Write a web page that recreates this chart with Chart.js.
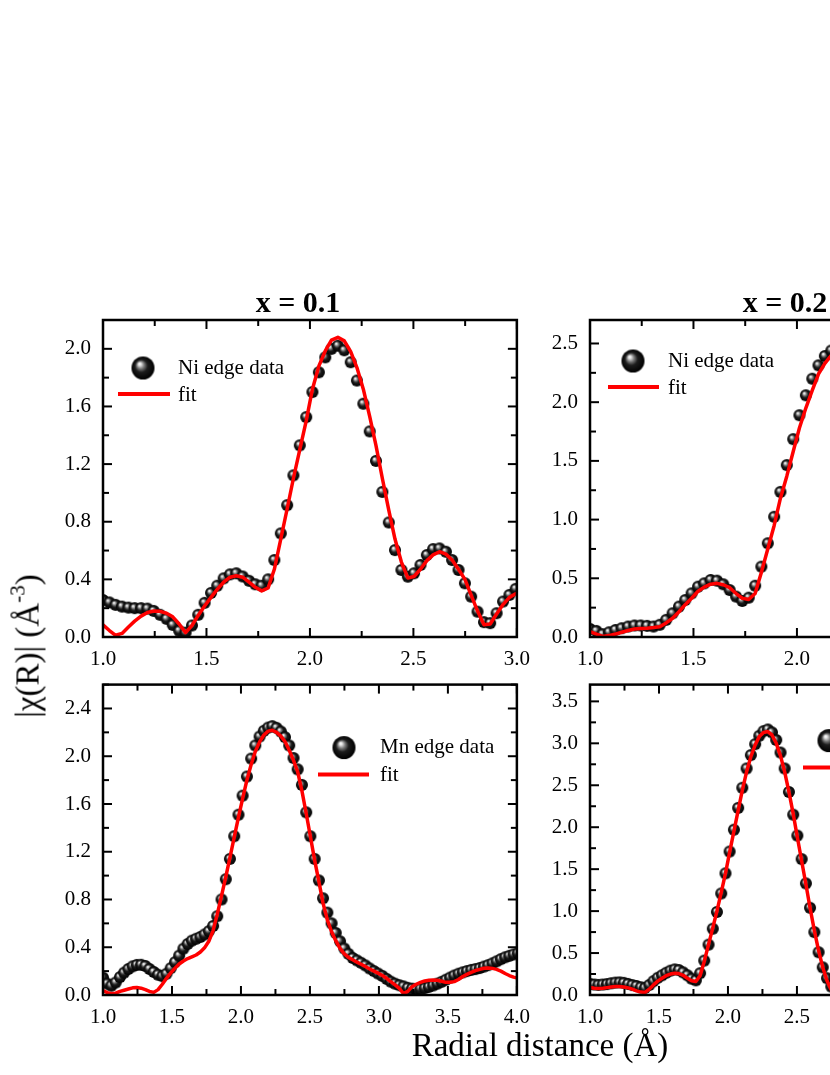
<!DOCTYPE html>
<html>
<head>
<meta charset="utf-8">
<title>|χ(R)| fits</title>
<script src="https://cdn.jsdelivr.net/npm/chart.js@4.4.1/dist/chart.umd.min.js"></script>
<style>
  html, body { margin: 0; padding: 0; background: #fff; overflow: hidden; }
  #page { position: relative; width: 1040px; height: 1075px; }
  #page canvas { position: absolute; }
  .axis-title {
    position: absolute;
    font-family: "Liberation Serif", "Times New Roman", serif;
    font-size: 33px;
    line-height: 1;
    color: #000;
    white-space: nowrap;
  }
  #xTitle { left: 540px; top: 1029px; transform: translateX(-50%); }
  #yTitle { left: 28px; top: 646px; transform: translate(-50%, -50%) rotate(-90deg); }
  #yTitle .sup { font-size: 21px; position: relative; top: -14px; }
</style>
</head>
<body>
<div id="page">
  <canvas id="panelNi01" width="500" height="400" style="left:40px; top:280px;"></canvas>
  <canvas id="panelNi02" width="500" height="400" style="left:527px; top:280px;"></canvas>
  <canvas id="panelMn01" width="500" height="380" style="left:40px; top:660px;"></canvas>
  <canvas id="panelMn02" width="500" height="380" style="left:527px; top:660px;"></canvas>
  <div id="yTitle" class="axis-title">|χ(R)| (Å<span class="sup">-3</span>)</div>
  <div id="xTitle" class="axis-title">Radial distance (Å)</div>
</div>

<script>
/**
 * EXAFS |chi(R)| panels: Ni and Mn edge data (spheres) with fits (red),
 * for x = 0.1 (left column) and x = 0.2 (right column).
 */

// R grid of the Fourier transform (Å), shared by every panel
const rGrid = [
  1.000, 1.031, 1.061, 1.092, 1.123, 1.153, 1.184, 1.215, 1.245, 1.276,
  1.307, 1.337, 1.368, 1.399, 1.430, 1.460, 1.491, 1.522, 1.552, 1.583,
  1.614, 1.644, 1.675, 1.706, 1.736, 1.767, 1.798, 1.828, 1.859, 1.890,
  1.920, 1.951, 1.982, 2.012, 2.043, 2.074, 2.104, 2.135, 2.166, 2.197,
  2.227, 2.258, 2.289, 2.319, 2.350, 2.381, 2.411, 2.442, 2.473, 2.503,
  2.534, 2.565, 2.595, 2.626, 2.657, 2.687, 2.718, 2.749, 2.779, 2.810,
  2.841, 2.871, 2.902, 2.933, 2.964, 2.994, 3.025, 3.056, 3.086, 3.117,
  3.148, 3.178, 3.209, 3.240, 3.270, 3.301, 3.332, 3.362, 3.393, 3.424,
  3.454, 3.485, 3.516, 3.546, 3.577, 3.608, 3.638, 3.669, 3.700, 3.731,
  3.761, 3.792, 3.823, 3.853, 3.884, 3.915, 3.945, 3.976, 4.007
];

// x = 0.1, Ni edge
const niData01 = [
  0.257, 0.240, 0.223, 0.211, 0.204, 0.200, 0.200, 0.197, 0.181, 0.154,
  0.126, 0.084, 0.043, 0.030, 0.080, 0.154, 0.237, 0.306, 0.356, 0.407,
  0.435, 0.442, 0.420, 0.390, 0.366, 0.356, 0.400, 0.534, 0.719, 0.915,
  1.122, 1.330, 1.526, 1.700, 1.837, 1.941, 2.000, 2.022, 1.990, 1.907,
  1.780, 1.619, 1.427, 1.222, 1.007, 0.795, 0.603, 0.465, 0.419, 0.442,
  0.500, 0.569, 0.610, 0.615, 0.592, 0.534, 0.465, 0.373, 0.280, 0.176,
  0.103, 0.096, 0.165, 0.246, 0.292, 0.334, 0.370
];
const niFit01 = [
  0.084, 0.045, 0.012, 0.025, 0.070, 0.110, 0.145, 0.170, 0.180, 0.178,
  0.165, 0.140, 0.090, 0.030, 0.080, 0.150, 0.215, 0.275, 0.330, 0.380,
  0.415, 0.425, 0.415, 0.380, 0.345, 0.320, 0.340, 0.470, 0.680, 0.890,
  1.100, 1.300, 1.500, 1.720, 1.880, 1.985, 2.060, 2.080, 2.055, 1.980,
  1.870, 1.720, 1.530, 1.330, 1.100, 0.880, 0.680, 0.520, 0.410, 0.420,
  0.470, 0.530, 0.570, 0.592, 0.575, 0.535, 0.470, 0.400, 0.290, 0.180,
  0.085, 0.090, 0.160, 0.225, 0.275, 0.300, 0.320
];

// x = 0.2, Ni edge (only the part inside the picture)
const niData02 = [
  0.069, 0.052, 0.024, 0.040, 0.060, 0.075, 0.089, 0.098, 0.098, 0.095,
  0.089, 0.104, 0.146, 0.202, 0.259, 0.315, 0.372, 0.429, 0.457, 0.486,
  0.480, 0.449, 0.400, 0.344, 0.307, 0.335, 0.437, 0.599, 0.798, 1.024,
  1.236, 1.464, 1.685, 1.889, 2.059, 2.200, 2.314, 2.393, 2.440
];
const niFit02 = [
  0.046, 0.025, 0.005, 0.012, 0.025, 0.040, 0.055, 0.068, 0.073, 0.075,
  0.080, 0.087, 0.120, 0.160, 0.215, 0.275, 0.330, 0.390, 0.425, 0.450,
  0.457, 0.445, 0.420, 0.370, 0.330, 0.320, 0.370, 0.550, 0.750, 0.950,
  1.180, 1.370, 1.580, 1.780, 1.950, 2.100, 2.240, 2.330, 2.400
];

// x = 0.1, Mn edge
const mnData01 = [
  0.146, 0.095, 0.078, 0.105, 0.150, 0.187, 0.218, 0.240, 0.252, 0.253,
  0.243, 0.218, 0.193, 0.170, 0.158, 0.178, 0.225, 0.275, 0.330, 0.388,
  0.428, 0.455, 0.471, 0.486, 0.507, 0.535, 0.578, 0.660, 0.800, 0.970,
  1.140, 1.330, 1.510, 1.670, 1.830, 1.980, 2.090, 2.165, 2.213, 2.240,
  2.252, 2.238, 2.207, 2.160, 2.090, 1.985, 1.890, 1.760, 1.530, 1.330,
  1.140, 0.960, 0.810, 0.690, 0.600, 0.520, 0.450, 0.390, 0.345, 0.310,
  0.290, 0.270, 0.248, 0.222, 0.200, 0.180, 0.160, 0.135, 0.112, 0.095,
  0.082, 0.072, 0.060, 0.053, 0.050, 0.052, 0.058, 0.068, 0.080, 0.095,
  0.110, 0.128, 0.146, 0.163, 0.178, 0.190, 0.200, 0.210, 0.217, 0.226,
  0.238, 0.250, 0.265, 0.282, 0.300, 0.316, 0.328, 0.340, 0.350
];
const mnFit01 = [
  0.037, 0.020, 0.010, 0.015, 0.030, 0.040, 0.050, 0.060, 0.062, 0.057,
  0.045, 0.030, 0.022, 0.045, 0.090, 0.140, 0.185, 0.225, 0.260, 0.285,
  0.305, 0.320, 0.335, 0.360, 0.395, 0.450, 0.540, 0.675, 0.830, 0.990,
  1.150, 1.320, 1.490, 1.645, 1.800, 1.930, 2.040, 2.120, 2.178, 2.210,
  2.218, 2.200, 2.168, 2.123, 2.050, 1.965, 1.870, 1.710, 1.520, 1.330,
  1.130, 0.950, 0.770, 0.630, 0.530, 0.455, 0.390, 0.345, 0.315, 0.295,
  0.275, 0.258, 0.238, 0.218, 0.200, 0.183, 0.163, 0.140, 0.112, 0.085,
  0.055, 0.012, 0.030, 0.070, 0.090, 0.105, 0.118, 0.123, 0.126, 0.124,
  0.115, 0.106, 0.106, 0.112, 0.130, 0.155, 0.173, 0.190, 0.205, 0.215,
  0.224, 0.227, 0.223, 0.215, 0.200, 0.180, 0.163, 0.150, 0.140
];

// x = 0.2, Mn edge (only the part inside the picture)
const mnData02 = [
  0.132, 0.125, 0.120, 0.125, 0.130, 0.140, 0.148, 0.150, 0.145, 0.132,
  0.118, 0.108, 0.092, 0.085, 0.120, 0.165, 0.205, 0.235, 0.265, 0.290,
  0.305, 0.298, 0.270, 0.235, 0.195, 0.175, 0.260, 0.410, 0.600, 0.790,
  0.990, 1.210, 1.450, 1.710, 1.970, 2.230, 2.470, 2.700, 2.860, 2.990,
  3.090, 3.145, 3.165, 3.130, 3.040, 2.890, 2.700, 2.420, 2.150, 1.900,
  1.620, 1.330, 1.040, 0.750, 0.510, 0.330, 0.200, 0.100
];
const mnFit02 = [
  0.090, 0.080, 0.078, 0.080, 0.088, 0.095, 0.100, 0.100, 0.095, 0.085,
  0.070, 0.050, 0.035, 0.030, 0.070, 0.120, 0.165, 0.200, 0.230, 0.250,
  0.260, 0.255, 0.235, 0.200, 0.170, 0.160, 0.230, 0.400, 0.600, 0.800,
  1.000, 1.220, 1.450, 1.700, 1.950, 2.200, 2.440, 2.660, 2.840, 2.980,
  3.080, 3.130, 3.140, 3.100, 3.000, 2.850, 2.660, 2.420, 2.160, 1.880,
  1.600, 1.320, 1.040, 0.770, 0.530, 0.330, 0.170, 0.060
];

const SERIF = '"Liberation Serif", "Times New Roman", serif';

// Pair a series with the R grid
function toPoints(values) {
  return values.map((v, i) => ({ x: rGrid[i], y: v }));
}

// Shaded black sphere used as the data marker
function makeSphere(r) {
  const size = Math.ceil(r * 2) + 2;
  const c = document.createElement('canvas');
  c.width = size;
  c.height = size;
  const g = c.getContext('2d');
  const cx = size / 2, cy = size / 2;
  const grad = g.createRadialGradient(cx - r * 0.32, cy - r * 0.38, 0, cx, cy, r);
  grad.addColorStop(0, '#ffffff');
  grad.addColorStop(0.12, '#e6e6e6');
  grad.addColorStop(0.32, '#7a7a7a');
  grad.addColorStop(0.55, '#1c1c1c');
  grad.addColorStop(1, '#000000');
  g.fillStyle = grad;
  g.beginPath();
  g.arc(cx, cy, r, 0, Math.PI * 2);
  g.fill();
  return c;
}

const sphereSmall = makeSphere(6);
const sphereLarge = makeSphere(11.5);

// Box frame with inward major/minor ticks on all four sides
const framePlugin = {
  id: 'frameTicks',
  afterDatasetsDraw(chart, args, opts) {
    const { ctx, chartArea: a, scales } = chart;
    const xs = scales.x, ys = scales.y;
    ctx.save();
    ctx.strokeStyle = '#000';
    ctx.lineCap = 'butt';

    const seg = (x0, y0, x1, y1) => {
      ctx.beginPath();
      ctx.moveTo(x0, y0);
      ctx.lineTo(x1, y1);
      ctx.stroke();
    };

    ctx.lineWidth = 2;
    let k = 0;
    for (let v = xs.min; v <= xs.max + 1e-9; v += opts.xMinor, k++) {
      const px = xs.getPixelForValue(v);
      const len = k % 2 === 0 ? 9 : 6;
      seg(px, a.bottom, px, a.bottom - len);
      seg(px, a.top, px, a.top + len);
    }
    k = 0;
    for (let v = ys.min; v <= ys.max + 1e-9; v += opts.yMinor, k++) {
      const py = ys.getPixelForValue(v);
      const len = k % 2 === 0 ? 9 : 6;
      seg(a.left, py, a.left + len, py);
      seg(a.right, py, a.right - len, py);
    }

    ctx.lineWidth = 2.5;
    ctx.strokeRect(a.left, a.top, a.right - a.left, a.bottom - a.top);
    ctx.restore();
  }
};

// Panel title and the in-plot legend
const decorPlugin = {
  id: 'panelDecor',
  afterDraw(chart, args, opts) {
    const { ctx, chartArea: a } = chart;
    ctx.save();
    ctx.fillStyle = '#000';

    if (opts.title) {
      ctx.font = 'bold 30px ' + SERIF;
      ctx.textAlign = 'center';
      ctx.textBaseline = 'alphabetic';
      ctx.fillText(opts.title, a.left + opts.titleX, a.top - 8);
    }

    const lg = opts.legend;
    ctx.drawImage(sphereLarge,
      a.left + lg.sphereX - sphereLarge.width / 2,
      a.top + lg.sphereY - sphereLarge.height / 2);

    ctx.strokeStyle = '#ff0000';
    ctx.lineWidth = 4;
    ctx.beginPath();
    ctx.moveTo(a.left + lg.lineX0, a.top + lg.lineY);
    ctx.lineTo(a.left + lg.lineX1, a.top + lg.lineY);
    ctx.stroke();

    ctx.font = '21px ' + SERIF;
    ctx.textAlign = 'left';
    ctx.textBaseline = 'middle';
    ctx.fillText(lg.label, a.left + lg.textX, a.top + lg.sphereY);
    ctx.fillText('fit', a.left + lg.textX, a.top + lg.lineY + 1);
    ctx.restore();
  }
};

function buildPanel(canvasId, cfg) {
  const ctx = document.getElementById(canvasId).getContext('2d');
  const tickFont = { family: SERIF, size: 21 };

  return new Chart(ctx, {
    type: 'line',
    data: {
      datasets: [
        {
          label: 'fit',
          data: toPoints(cfg.fit),
          borderColor: '#ff0000',
          borderWidth: 3.5,
          borderJoinStyle: 'round',
          pointRadius: 0,
          tension: 0,
          order: 0
        },
        {
          label: cfg.legend.label,
          data: toPoints(cfg.data),
          showLine: false,
          pointStyle: sphereSmall,
          pointRadius: 6,
          order: 1
        }
      ]
    },
    options: {
      responsive: false,
      animation: false,
      events: [],
      layout: { padding: { top: cfg.padTop, right: 22, bottom: 0, left: 0 } },
      plugins: {
        legend: { display: false },
        tooltip: { enabled: false },
        frameTicks: { xMinor: cfg.xStep / 2, yMinor: cfg.yStep / 2 },
        panelDecor: { title: cfg.title, titleX: 195, legend: cfg.legend }
      },
      scales: {
        x: {
          type: 'linear',
          min: cfg.xMin,
          max: cfg.xMax,
          grid: { display: false, drawTicks: false },
          border: { display: false },
          ticks: {
            stepSize: cfg.xStep,
            includeBounds: false,
            autoSkip: false,
            maxRotation: 0,
            padding: 10,
            color: '#000',
            font: tickFont,
            callback: v => v.toFixed(1)
          },
          afterFit(scale) { scale.height = cfg.xAxisHeight; }
        },
        y: {
          type: 'linear',
          min: 0,
          max: cfg.yMax,
          grid: { display: false, drawTicks: false },
          border: { display: false },
          ticks: {
            stepSize: cfg.yStep,
            includeBounds: false,
            padding: 12,
            color: '#000',
            font: tickFont,
            callback: v => v.toFixed(1)
          },
          afterFit(scale) { scale.width = 63; }
        }
      }
    },
    plugins: [framePlugin, decorPlugin]
  });
}

buildPanel('panelNi01', {
  data: niData01, fit: niFit01, title: 'x = 0.1',
  xMin: 1, xMax: 3, xStep: 0.5, yMax: 2.2, yStep: 0.4,
  padTop: 40, xAxisHeight: 43,
  legend: { label: 'Ni edge data', sphereX: 40, sphereY: 48, textX: 75, lineX0: 15, lineX1: 67, lineY: 74 }
});

buildPanel('panelNi02', {
  data: niData02, fit: niFit02, title: 'x = 0.2',
  xMin: 1, xMax: 3, xStep: 0.5, yMax: 2.7, yStep: 0.5,
  padTop: 40, xAxisHeight: 43,
  legend: { label: 'Ni edge data', sphereX: 43, sphereY: 41, textX: 78, lineX0: 18, lineX1: 69, lineY: 67 }
});

buildPanel('panelMn01', {
  data: mnData01, fit: mnFit01, title: null,
  xMin: 1, xMax: 4, xStep: 0.5, yMax: 2.6, yStep: 0.4,
  padTop: 17, xAxisHeight: 45,
  legend: { label: 'Mn edge data', sphereX: 241, sphereY: 63, textX: 277, lineX0: 215, lineX1: 266, lineY: 90 }
});

buildPanel('panelMn02', {
  data: mnData02, fit: mnFit02, title: null,
  xMin: 1, xMax: 4, xStep: 0.5, yMax: 3.7, yStep: 0.5,
  padTop: 17, xAxisHeight: 45,
  legend: { label: 'Mn edge data', sphereX: 239, sphereY: 56, textX: 275, lineX0: 213, lineX1: 264, lineY: 83 }
});
</script>
</body>
</html>
